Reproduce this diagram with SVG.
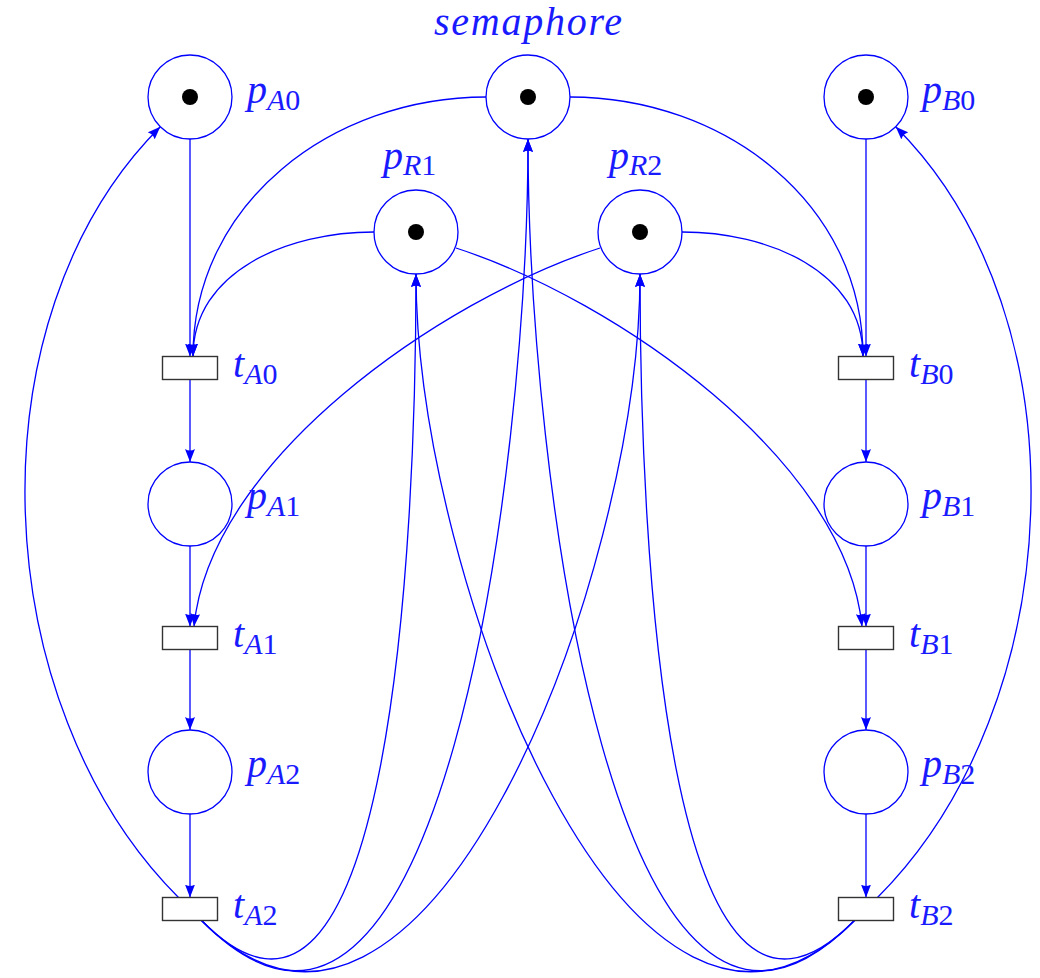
<svg xmlns="http://www.w3.org/2000/svg" width="1040" height="978" viewBox="0 0 1040 978">
<style>
.place{fill:#fff;stroke:#0000ff;stroke-width:1.3}
.tok{fill:#000}
.trans{fill:#fff;stroke:#333;stroke-width:1.4}
.arc{fill:none;stroke:#0000ff;stroke-width:1.3;marker-end:url(#ah)}
.lbl{font-family:"Liberation Serif","DejaVu Serif",serif;font-style:italic;font-size:40px;fill:#1a1aff}
.sub{font-size:30px}
.num{font-style:normal}
</style>
<defs>
<marker id="ah" viewBox="0 0 13 10" markerUnits="userSpaceOnUse" markerWidth="13" markerHeight="10" refX="13" refY="5" orient="auto">
<path d="M0,0 L13,5 L0,10 Q3,5 0,0 z" fill="#0000ff"/>
</marker>
</defs>
<rect width="1040" height="978" fill="#fff"/>
<g id="connectors">
<path class="arc" d="M190,139 L190,356.5"/>
<path class="arc" d="M190,379.5 L190,462"/>
<path class="arc" d="M190,546 L190,626.5"/>
<path class="arc" d="M190,649.5 L190,730"/>
<path class="arc" d="M190,814 L190,897.5"/>
<path class="arc" d="M866,139 L866,356.5"/>
<path class="arc" d="M866,379.5 L866,462"/>
<path class="arc" d="M866,546 L866,626.5"/>
<path class="arc" d="M866,649.5 L866,730"/>
<path class="arc" d="M866,814 L866,897.5"/>
<path class="arc" d="M486,97 C332,97 193,203 193,356.5"/>
<path class="arc" d="M374,232 C288,232 193,271 193,356.5"/>
<path class="arc" d="M570,97 C724,97 863,203 863,356.5"/>
<path class="arc" d="M682,232 C768,232 863,271 863,356.5"/>
<path class="arc" d="M600,248 C440,300 210,460 194,626.5"/>
<path class="arc" d="M456,248 C616,300 846,460 862,626.5"/>
<path class="arc" d="M178.5,897.5 C-13.5,705.5 -32,319 160.3,126.7"/>
<path class="arc" d="M877.5,897.5 C1069.5,705.5 1088,319 895.7,126.7"/>
<path class="arc" d="M201.5,920.5 C391,1112 416,541 416,274"/>
<path class="arc" d="M201.5,920.5 C440,1162 528,471 528,139"/>
<path class="arc" d="M201.5,920.5 C422,1144 640,580 640,274"/>
<path class="arc" d="M854.5,920.5 C665,1112 640,541 640,274"/>
<path class="arc" d="M854.5,920.5 C616,1162 528,471 528,139"/>
<path class="arc" d="M854.5,920.5 C634,1144 416,580 416,274"/>
</g>
<g id="pA0"><circle class="place" cx="190" cy="97" r="42"/><circle class="tok" cx="190" cy="97" r="8"/><text class="lbl" x="247" y="103">p<tspan class="sub" dy="7">A</tspan><tspan class="sub num">0</tspan></text></g>
<g id="semaphore"><circle class="place" cx="528" cy="97" r="42"/><circle class="tok" cx="528" cy="97" r="8"/><text class="lbl" x="528" y="35" font-size="36" text-anchor="middle" textLength="188" lengthAdjust="spacing">semaphore</text></g>
<g id="pB0"><circle class="place" cx="866" cy="97" r="42"/><circle class="tok" cx="866" cy="97" r="8"/><text class="lbl" x="922" y="103">p<tspan class="sub" dy="7">B</tspan><tspan class="sub num">0</tspan></text></g>
<g id="pR1"><circle class="place" cx="416" cy="232" r="42"/><circle class="tok" cx="416" cy="232" r="8"/><text class="lbl" x="383" y="169">p<tspan class="sub" dy="6">R</tspan><tspan class="sub num">1</tspan></text></g>
<g id="pR2"><circle class="place" cx="640" cy="232" r="42"/><circle class="tok" cx="640" cy="232" r="8"/><text class="lbl" x="609" y="169">p<tspan class="sub" dy="6">R</tspan><tspan class="sub num">2</tspan></text></g>
<g id="tA0"><rect class="trans" x="162.5" y="356.5" width="55" height="23"/><text class="lbl" x="233" y="377">t<tspan class="sub" dy="7">A</tspan><tspan class="sub num">0</tspan></text></g>
<g id="tB0"><rect class="trans" x="838.5" y="356.5" width="55" height="23"/><text class="lbl" x="909" y="377">t<tspan class="sub" dy="7">B</tspan><tspan class="sub num">0</tspan></text></g>
<g id="pA1"><circle class="place" cx="190" cy="504" r="42"/><text class="lbl" x="247" y="509">p<tspan class="sub" dy="7">A</tspan><tspan class="sub num">1</tspan></text></g>
<g id="pB1"><circle class="place" cx="866" cy="504" r="42"/><text class="lbl" x="922" y="509">p<tspan class="sub" dy="7">B</tspan><tspan class="sub num">1</tspan></text></g>
<g id="tA1"><rect class="trans" x="162.5" y="626.5" width="55" height="23"/><text class="lbl" x="233" y="647">t<tspan class="sub" dy="7">A</tspan><tspan class="sub num">1</tspan></text></g>
<g id="tB1"><rect class="trans" x="838.5" y="626.5" width="55" height="23"/><text class="lbl" x="909" y="647">t<tspan class="sub" dy="7">B</tspan><tspan class="sub num">1</tspan></text></g>
<g id="pA2"><circle class="place" cx="190" cy="772" r="42"/><text class="lbl" x="247" y="777">p<tspan class="sub" dy="7">A</tspan><tspan class="sub num">2</tspan></text></g>
<g id="pB2"><circle class="place" cx="866" cy="772" r="42"/><text class="lbl" x="922" y="777">p<tspan class="sub" dy="7">B</tspan><tspan class="sub num">2</tspan></text></g>
<g id="tA2"><rect class="trans" x="162.5" y="897.5" width="55" height="23"/><text class="lbl" x="233" y="918">t<tspan class="sub" dy="7">A</tspan><tspan class="sub num">2</tspan></text></g>
<g id="tB2"><rect class="trans" x="838.5" y="897.5" width="55" height="23"/><text class="lbl" x="909" y="918">t<tspan class="sub" dy="7">B</tspan><tspan class="sub num">2</tspan></text></g>
</svg>
